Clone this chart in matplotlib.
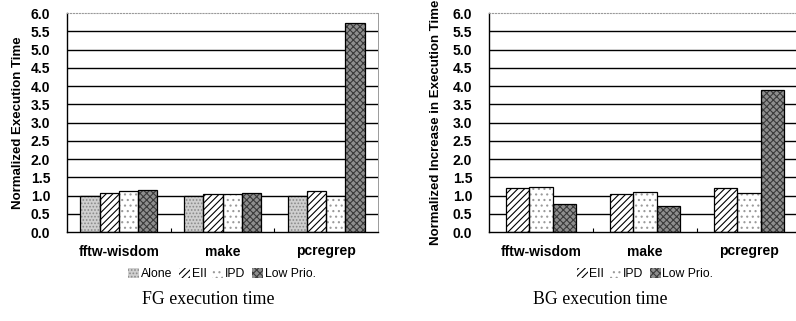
import matplotlib
matplotlib.use("Agg")
import matplotlib.pyplot as plt
import numpy as np

categories = ["fftw-wisdom", "make", "pcregrep"]
fg_series = ["Alone", "EII", "IPD", "Low Prio."]
fg_values = {
    "Alone": [1.0, 1.0, 1.0],
    "EII": [1.07, 1.03, 1.13],
    "IPD": [1.12, 1.03, 1.0],
    "Low Prio.": [1.15, 1.06, 5.72],
}
bg_series = ["EII", "IPD", "Low Prio."]
bg_values = {
    "EII": [1.2, 1.05, 1.2],
    "IPD": [1.22, 1.1, 1.08],
    "Low Prio.": [0.78, 0.72, 3.9],
}
yticks = [0.0, 0.5, 1.0, 1.5, 2.0, 2.5, 3.0, 3.5, 4.0, 4.5, 5.0, 5.5, 6.0]

styles = {
    "Alone": dict(facecolor="#cfcfcf", hatch=".....", edgecolor="#8a8a8a"),
    "EII": dict(facecolor="white", hatch="/////", edgecolor="black"),
    "IPD": dict(facecolor="white", hatch="...", edgecolor="#9a9a9a"),
    "Low Prio.": dict(facecolor="#8e8e8e", hatch="xxxxx", edgecolor="#3a3a3a"),
}

plt.rcParams["font.family"] = ["Liberation Sans", "DejaVu Sans"]
plt.rcParams["hatch.linewidth"] = 0.8

W, H = 796, 321
fig = plt.figure(figsize=(W / 100, H / 100), dpi=100)

def draw(ax, series, values, width, ylabel, labelpad, title, title_x, legend_x):
    x = np.arange(len(categories))
    n = len(series)
    for yv in yticks[1:-1]:
        ax.axhline(yv, color="black", lw=1.0, zorder=1)
    for i, s in enumerate(series):
        off = (i - (n - 1) / 2) * width
        st = styles[s]
        ax.bar(x + off, values[s], width, facecolor=st["facecolor"], hatch=st["hatch"],
               edgecolor=st["edgecolor"], lw=0, zorder=2, label=s)
        ax.bar(x + off, values[s], width, facecolor="none", edgecolor="black", lw=0.9, zorder=3)
    ax.set_xlim(-0.5, len(categories) - 0.5)
    ax.set_ylim(0, 6.0)
    ax.set_yticks(yticks)
    ax.set_yticklabels([f"{v:.1f}" for v in yticks], fontsize=10, fontweight="bold")
    ax.set_xticks(x)
    ax.set_xticklabels(categories, fontsize=10, fontweight="bold")
    ax.tick_params(axis="x", length=0, pad=9)
    ax.tick_params(axis="y", length=0, pad=12)
    ax.set_xticks(np.arange(0.5, len(categories) - 0.5, 1.0), minor=True)
    ax.tick_params(axis="x", which="minor", direction="in", length=3, width=0.8)
    ax.spines["left"].set_linewidth(1.0)
    ax.spines["bottom"].set_linewidth(1.0)
    ax.spines["top"].set_color("#9a9a9a")
    ax.spines["top"].set_linestyle(":")
    ax.spines["right"].set_color("#9a9a9a")
    ax.spines["right"].set_linewidth(0.7)
    ax.set_ylabel(ylabel, fontsize=9.5, fontweight="bold", labelpad=labelpad)
    handles, labels = ax.get_legend_handles_labels()
    fig.legend(handles, labels, loc="center", bbox_to_anchor=(legend_x, (H - 274) / H),
               ncol=len(series), frameon=False, fontsize=8.8, handlelength=0.9, handleheight=0.9,
               handletextpad=0.15, columnspacing=0.5, borderpad=0)
    fig.text(title_x, (H - 300) / H, title, ha="center", va="center",
             fontsize=12.8, family="Liberation Serif")

ax1 = fig.add_axes([67 / W, (H - 232) / H, 311 / W, 219 / H])
draw(ax1, fg_series, fg_values, 0.185, "Normalized Execution Time", 5,
     "FG execution time", 208 / W, 222 / W)

ax2 = fig.add_axes([489 / W, (H - 232) / H, 312 / W, 219 / H])
draw(ax2, bg_series, bg_values, 0.225, "Normalized Increase in Execution Time", 8,
     "BG execution time", 600 / W, 645 / W)

fig.savefig("out.png", dpi=100)
